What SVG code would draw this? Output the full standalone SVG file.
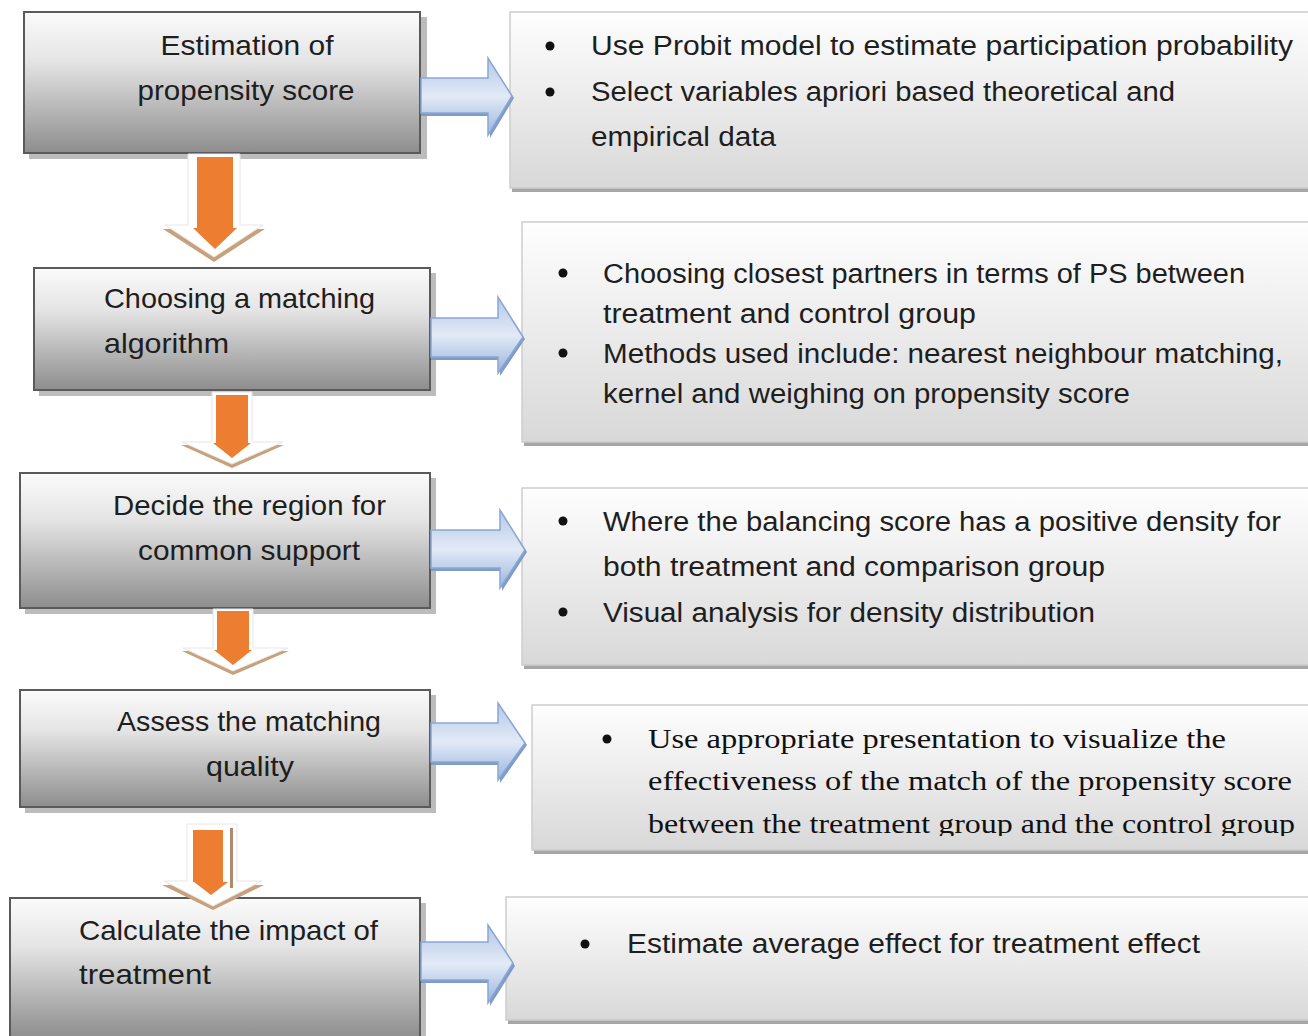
<svg xmlns="http://www.w3.org/2000/svg" width="1308" height="1036" viewBox="0 0 1308 1036">
<style>
.lbox{fill:url(#gL);stroke:#5a5a5a;stroke-width:2}
.lsh{fill:#bcbcbc}
.rbox{fill:url(#gR);stroke:#cdcdcd;stroke-width:1.5}
.rsh{fill:#a6a6a6}
.bar{fill:url(#gB);stroke:#8aa6d4;stroke-width:1.5;stroke-linejoin:miter}
.barsh{fill:#7f9cc9}
.dout{fill:#ffffff;stroke:#e6e6e6;stroke-width:1}
.dsh{fill:#c9a07c}
.din{fill:#ed7d31}
.t{font-family:"Liberation Sans",Arial,sans-serif;font-size:28px;fill:#1e1e1e}
.tr{font-family:"Liberation Sans",Arial,sans-serif;font-size:27px;fill:#1e1e1e}
.ts{font-family:"Liberation Serif","Times New Roman",serif;font-size:28px;fill:#111}
.dot{fill:#111}
</style>
<defs>
<linearGradient id="gL" x1="0" y1="0" x2="0" y2="1">
<stop offset="0" stop-color="#fbfbfb"/>
<stop offset="0.35" stop-color="#e4e4e4"/>
<stop offset="1" stop-color="#8d8d8d"/>
</linearGradient>
<linearGradient id="gR" x1="0" y1="0" x2="0" y2="1">
<stop offset="0" stop-color="#fefefe"/>
<stop offset="1" stop-color="#d8d8d8"/>
</linearGradient>
<linearGradient id="gB" x1="0" y1="0" x2="0" y2="1">
<stop offset="0" stop-color="#b3c8e8"/>
<stop offset="0.5" stop-color="#e2eaf6"/>
<stop offset="1" stop-color="#9ab5df"/>
</linearGradient>
<clipPath id="clip4"><rect x="532" y="705" width="776" height="131"/></clipPath>
</defs>

<!-- left boxes -->
<g id="node-estimation">
<rect class="lsh" x="29" y="17" width="398" height="142"/>
<rect class="lbox" x="24" y="12" width="396" height="141"/>
<text class="t" x="247" y="55" text-anchor="middle" textLength="173" lengthAdjust="spacingAndGlyphs">Estimation of</text>
<text class="t" x="246" y="100" text-anchor="middle" textLength="217" lengthAdjust="spacingAndGlyphs">propensity score</text>
</g>
<g id="node-matching">
<rect class="lsh" x="39" y="273" width="397" height="123"/>
<rect class="lbox" x="34" y="268" width="396" height="122"/>
<text class="t" x="104" y="308" textLength="271" lengthAdjust="spacingAndGlyphs">Choosing a matching</text>
<text class="t" x="104" y="353" textLength="125" lengthAdjust="spacingAndGlyphs">algorithm</text>
</g>
<g id="node-region">
<rect class="lsh" x="25" y="478" width="411" height="136"/>
<rect class="lbox" x="20" y="473" width="410" height="135"/>
<text class="t" x="113" y="515" textLength="273" lengthAdjust="spacingAndGlyphs">Decide the region for</text>
<text class="t" x="138" y="560" textLength="222" lengthAdjust="spacingAndGlyphs">common support</text>
</g>
<g id="node-assess">
<rect class="lsh" x="25" y="695" width="411" height="118"/>
<rect class="lbox" x="20" y="690" width="410" height="117"/>
<text class="t" x="117" y="731" textLength="264" lengthAdjust="spacingAndGlyphs">Assess the matching</text>
<text class="t" x="206" y="776" textLength="88" lengthAdjust="spacingAndGlyphs">quality</text>
</g>
<g id="node-impact">
<rect class="lsh" x="15" y="903" width="411" height="140"/>
<rect class="lbox" x="10" y="898" width="410" height="140"/>
<text class="t" x="79" y="940" textLength="299" lengthAdjust="spacingAndGlyphs">Calculate the impact of</text>
<text class="t" x="79" y="984" textLength="132" lengthAdjust="spacingAndGlyphs">treatment</text>
</g>

<!-- right boxes -->
<g id="note-estimation">
<rect class="rsh" x="512" y="16" width="800" height="176"/>
<rect class="rbox" x="510" y="12" width="800" height="176"/>
<circle class="dot" cx="550" cy="46" r="4.5"/>
<circle class="dot" cx="550" cy="92" r="4.5"/>
<text class="tr" x="591" y="55" textLength="702" lengthAdjust="spacingAndGlyphs">Use Probit model to estimate participation probability</text>
<text class="tr" x="591" y="101" textLength="584" lengthAdjust="spacingAndGlyphs">Select variables apriori based theoretical and</text>
<text class="tr" x="591" y="146" textLength="185" lengthAdjust="spacingAndGlyphs">empirical data</text>
</g>
<g id="note-matching">
<rect class="rsh" x="524" y="226" width="788" height="220"/>
<rect class="rbox" x="522" y="222" width="788" height="220"/>
<circle class="dot" cx="563" cy="273" r="4.5"/>
<circle class="dot" cx="563" cy="353" r="4.5"/>
<text class="tr" x="603" y="283" textLength="642" lengthAdjust="spacingAndGlyphs">Choosing closest partners in terms of PS between</text>
<text class="tr" x="603" y="323" textLength="373" lengthAdjust="spacingAndGlyphs">treatment and control group</text>
<text class="tr" x="603" y="363" textLength="680" lengthAdjust="spacingAndGlyphs">Methods used include: nearest neighbour matching,</text>
<text class="tr" x="603" y="403" textLength="527" lengthAdjust="spacingAndGlyphs">kernel and weighing on propensity score</text>
</g>
<g id="note-region">
<rect class="rsh" x="524" y="492" width="788" height="177"/>
<rect class="rbox" x="522" y="488" width="788" height="177"/>
<circle class="dot" cx="563" cy="521" r="4.5"/>
<circle class="dot" cx="563" cy="612" r="4.5"/>
<text class="tr" x="603" y="531" textLength="678" lengthAdjust="spacingAndGlyphs">Where the balancing score has a positive density for</text>
<text class="tr" x="603" y="576" textLength="502" lengthAdjust="spacingAndGlyphs">both treatment and comparison group</text>
<text class="tr" x="603" y="622" textLength="492" lengthAdjust="spacingAndGlyphs">Visual analysis for density distribution</text>
</g>
<g id="note-assess">
<rect class="rsh" x="534" y="709" width="778" height="145"/>
<rect class="rbox" x="532" y="705" width="778" height="145"/>
<circle class="dot" cx="607" cy="739" r="4.5"/>
<g clip-path="url(#clip4)">
<text class="ts" x="648" y="748" textLength="578" lengthAdjust="spacingAndGlyphs">Use appropriate presentation  to visualize the</text>
<text class="ts" x="648" y="790" textLength="644" lengthAdjust="spacingAndGlyphs">effectiveness of the  match of the propensity score</text>
<text class="ts" x="648" y="833" textLength="647" lengthAdjust="spacingAndGlyphs">between the treatment group and the control group</text>
</g>
</g>
<g id="note-impact">
<rect class="rsh" x="508" y="901" width="804" height="123"/>
<rect class="rbox" x="506" y="897" width="804" height="123"/>
<circle class="dot" cx="585" cy="944" r="4.5"/>
<text class="tr" x="627" y="953" textLength="573" lengthAdjust="spacingAndGlyphs">Estimate average effect for treatment effect</text>
</g>

<g id="connectors">
<!-- blue arrows -->
<g id="arrow-r1">
<polygon class="barsh" points="421,81 490,81 490,61 514,98 490,138 490,116 421,116"/>
<polygon class="bar" points="421,78 488,78 488,58 512,96 488,135 488,113 421,113"/>
</g>
<g id="arrow-r2">
<polygon class="barsh" points="431,321 500,321 500,300 525,339 500,376 500,360 431,360"/>
<polygon class="bar" points="431,318 498,318 498,297 523,337 498,373 498,357 431,357"/>
</g>
<g id="arrow-r3">
<polygon class="barsh" points="431,533 502,533 502,513 527,552 502,591 502,571 431,571"/>
<polygon class="bar" points="431,530 500,530 500,510 525,550 500,588 500,568 431,568"/>
</g>
<g id="arrow-r4">
<polygon class="barsh" points="431,726 500,726 500,706 527,745 500,783 500,765 431,765"/>
<polygon class="bar" points="431,723 498,723 498,703 525,743 498,780 498,762 431,762"/>
</g>
<g id="arrow-r5">
<polygon class="barsh" points="421,945 490,945 490,928 515,966 490,1006 490,983 421,983"/>
<polygon class="bar" points="421,942 488,942 488,925 513,963 488,1003 488,980 421,980"/>
</g>
<!-- orange down arrows -->
<g id="arrow-d1">
<polygon class="dsh" points="188,156 240,156 240,229 265,229 214,262 163,229 188,229"/>
<polygon class="dout" points="188,154 240,154 240,225 263,225 214,257 165,225 188,225"/>
<polygon class="din" points="197,157 233,157 233,228 237,228 215,249 193,228 197,228"/>
</g>
<g id="arrow-d2">
<polygon class="dsh" points="212,395 252,395 252,445 284,445 232,468 181,445 212,445"/>
<polygon class="dout" points="212,392 252,392 252,442 283,442 232,464 182,442 212,442"/>
<polygon class="din" points="216,395 248,395 248,443 251,443 232,458 213,443 216,443"/>
</g>
<g id="arrow-d3">
<polygon class="dsh" points="213,611 253,611 253,651 289,651 233,675 182,651 213,651"/>
<polygon class="dout" points="213,609 253,609 253,648 288,648 233,671 183,648 213,648"/>
<polygon class="din" points="217,611 249,611 249,650 252,650 233,665 214,650 217,650"/>
</g>
<g id="arrow-d4">
<polygon class="dsh" points="187,827 237,827 237,885 264,885 213,910 162,885 187,885"/>
<polygon class="dout" points="187,824 237,824 237,881 262,881 213,906 164,881 187,881"/>
<rect x="230" y="828" width="3" height="60" fill="#b08a6a"/>
<polygon class="din" points="193,830 223,830 223,882 228,882 211,895 194,882 193,882"/>
</g>
</g>
</svg>
